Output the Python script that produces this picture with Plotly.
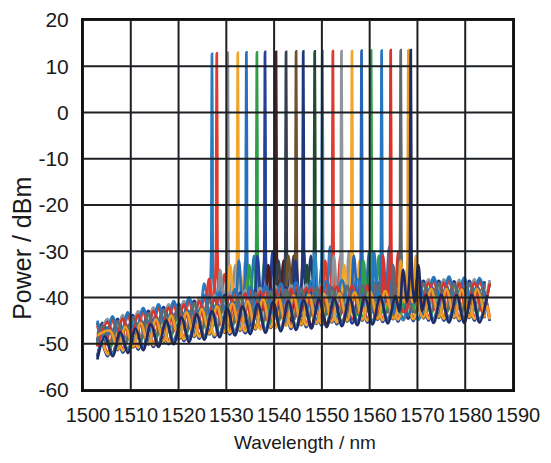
import numpy as np
import plotly.graph_objects as go

# ---------------- data ----------------
X_TICKS = [1500, 1510, 1520, 1530, 1540, 1550, 1560, 1570, 1580, 1590]
Y_TICKS = [-60, -50, -40, -30, -20, -10, 0, 10, 20]
Y_TICK_TEXT = ["-60", "-50", "-40", "-30", "-20", "-10", "0", "10", "20"]

# laser channels (peak wavelength nm, peak power dBm)
PEAK_WL = [1527.0, 1528.0, 1530.3, 1532.4, 1534.2, 1536.4, 1538.1, 1540.4, 1542.5, 1544.6,
           1546.1, 1548.5, 1550.1, 1552.3, 1554.1, 1556.3, 1558.3, 1560.3, 1562.5, 1564.4,
           1566.5, 1568.1, 1568.6]
PEAK_DBM = [12.7, 12.8, 12.9, 12.9, 13.0, 13.0, 13.1, 13.1, 13.1, 13.2, 13.2, 13.2, 13.3,
            13.3, 13.3, 13.3, 13.4, 13.4, 13.4, 13.5, 13.5, 13.5, 13.5]
SIDE_DBM = [-37, -36, -34, -33, -32, -33, -31, -33, -32, -31, -32, -33, -30, -32, -31,
            -33, -31, -32, -30, -31, -33, -32, -34]
FLOOR_SHIFT = [0.0, 0.4, -0.3, 0.2, -0.2, 0.5, -0.5, 0.3, -0.4, 0.0, 0.6, -0.2, 0.2, -0.6,
               0.4, -0.1, 0.3, -0.3, 0.5, -0.4, 0.1, -0.2, -0.4]
FLOOR_GROUP = [0, 1, 2, 3, 4, 5, 1, 3, 5, 0, 2, 4, 3, 0, 4, 1, 5, 2, 0, 4, 2, 5, 3]
COLORS = ['#2b7bc0', '#e23a2c', '#8b9097', '#f2a52b', '#2670bd', '#2e9e47', '#24419a',
          '#4b1f22', '#363f4e', '#6e5230', '#22367f', '#1f4c33', '#2b86c8', '#df3b2e',
          '#8f959c', '#f2a62c', '#2565b5', '#2fa048', '#2677c2', '#d9332b', '#5f6872',
          '#eb9c26', '#1f2b66']

# ripple floor of the spectra: alternating maxima / minima every 1.6 nm
FLOOR_STEP = 1.6
FLOOR_END = 1585.2
GROUP_START = [1503.0, 1503.53, 1504.07, 1504.6, 1505.13, 1505.67]
GROUP_FIRST = [None, -48.5, -50.0, -53.0, -50.2, -48.0]   # value at 1503.0
GROUP_DBM = [
    [-45.5, -49.7, -44.6, -49.2, -43.7, -48.3, -42.8, -47.7, -42.0, -47.1, -41.3, -46.4, -40.5,
     -46.1, -39.9, -45.5, -39.4, -45.0, -38.7, -44.8, -38.2, -44.3, -37.9, -44.0, -37.5, -43.6,
     -37.2, -43.4, -37.0, -43.0, -36.9, -42.9, -36.8, -42.6, -36.5, -42.4, -36.5, -42.2, -36.3,
     -42.1, -36.1, -42.0, -36.0, -42.1, -36.1, -41.9, -36.0, -42.1, -36.2, -42.0, -36.3, -42.2],
    [-47.9, -52.2, -47.0, -51.4, -46.1, -50.8, -45.4, -50.2, -44.5, -49.6, -43.7, -48.9, -43.0,
     -48.4, -42.3, -48.1, -41.7, -47.5, -41.1, -47.2, -40.6, -46.8, -40.2, -46.5, -39.9, -46.3,
     -39.7, -45.9, -39.5, -45.6, -39.3, -45.3, -39.2, -45.1, -39.1, -44.9, -38.9, -44.8, -38.8,
     -44.7, -38.6, -44.6, -38.5, -44.5, -38.4, -44.5, -38.6, -44.6, -38.5, -44.5, -38.6, -44.6],
    [-46.1, -50.4, -45.2, -49.7, -44.4, -49.1, -43.5, -48.4, -42.7, -47.8, -42.0, -47.3, -41.3,
     -46.8, -40.6, -46.4, -40.1, -45.9, -39.6, -45.6, -39.1, -45.2, -38.7, -44.9, -38.4, -44.6,
     -38.2, -44.3, -38.0, -44.0, -37.9, -43.8, -37.6, -43.6, -37.5, -43.4, -37.4, -43.2, -37.3,
     -43.1, -37.1, -43.0, -37.0, -43.1, -37.0, -43.0, -37.1, -43.0, -37.0, -43.1, -37.1],
    [-48.0, -52.3, -47.1, -51.6, -46.3, -51.0, -45.4, -50.3, -44.6, -49.7, -43.9, -49.2, -43.2,
     -48.7, -42.6, -48.2, -42.0, -47.8, -41.5, -47.5, -41.0, -47.2, -40.6, -46.9, -40.4, -46.6,
     -40.2, -46.3, -40.0, -46.0, -39.9, -45.8, -39.7, -45.6, -39.5, -45.4, -39.4, -45.2, -39.3,
     -45.1, -39.1, -45.0, -39.0, -45.1, -39.0, -45.0, -39.1, -45.1, -39.0, -45.0, -39.1],
    [-45.0, -49.5, -44.2, -48.8, -43.4, -48.2, -42.6, -47.6, -41.9, -47.0, -41.2, -46.5, -40.5,
     -46.0, -39.9, -45.6, -39.3, -45.2, -38.8, -44.9, -38.3, -44.6, -38.0, -44.3, -37.8, -44.0,
     -37.6, -43.7, -37.4, -43.4, -37.3, -43.2, -37.1, -43.0, -37.0, -42.8, -36.9, -42.7, -36.7,
     -42.6, -36.6, -42.5, -36.5, -42.5, -36.5, -42.4, -36.6, -42.5, -36.5, -42.6, -36.6],
    [-47.0, -51.0, -46.1, -50.4, -45.3, -49.8, -44.5, -49.2, -43.7, -48.6, -43.0, -48.1, -42.3,
     -47.6, -41.7, -47.2, -41.1, -46.8, -40.6, -46.5, -40.1, -46.2, -39.7, -45.9, -39.4, -45.6,
     -39.2, -45.3, -39.0, -45.0, -38.9, -44.8, -38.7, -44.6, -38.5, -44.4, -38.4, -44.3, -38.3,
     -44.2, -38.1, -44.1, -38.0, -44.0, -38.0, -44.0, -38.1, -44.0, -38.0, -44.1],
]

# shape of a laser line: offsets from the peak wavelength (nm)
PEAK_DL = [-2.4, -1.6, -0.8, -0.3, -0.1, 0.0, 0.1, 0.3, 0.8, 1.6, 2.4]
PEAK_LOW = -43.0
PEAK_VALLEY = -41.0
PEAK_SKIRT = -36.0
PEAK_SHOULDER = -8.0

# ---------------- figure ----------------
FONT = "Liberation Sans, Arial, sans-serif"
fig = go.Figure()

for i, wl in enumerate(PEAK_WL):
    g = FLOOR_GROUP[i]
    gx = list(np.arange(GROUP_START[g], FLOOR_END, FLOOR_STEP))
    gy = list(GROUP_DBM[g])
    n = min(len(gx), len(gy))
    gx, gy = gx[:n], gy[:n]
    if GROUP_FIRST[g] is not None:
        gx = [1503.0] + gx
        gy = [GROUP_FIRST[g]] + gy
    gx = np.array(gx)
    gy = np.array(gy) + FLOOR_SHIFT[i]
    keep = np.abs(gx - wl) > 2.6
    s = SIDE_DBM[i]
    prof_y = [PEAK_LOW, s, PEAK_VALLEY, PEAK_SKIRT, PEAK_SHOULDER, PEAK_DBM[i],
              PEAK_SHOULDER, PEAK_SKIRT, PEAK_VALLEY, s + 1, PEAK_LOW]
    prof_x = [wl + d for d in PEAK_DL]
    xs = np.concatenate([gx[keep], prof_x])
    ys = np.concatenate([gy[keep], prof_y])
    order = np.argsort(xs)
    fig.add_trace(go.Scatter(
        x=xs[order], y=ys[order], mode="lines",
        line=dict(color=COLORS[i], width=2.7, shape="spline", smoothing=1.0),
        showlegend=False, hoverinfo="skip"))

# grid drawn above the traces, as in the reference
for v in X_TICKS:
    fig.add_shape(type="line", xref="x", yref="paper", x0=v, x1=v, y0=0, y1=1,
                  line=dict(color="#1d2125", width=2), layer="above")
for v in Y_TICKS:
    fig.add_shape(type="line", xref="paper", yref="y", x0=0, x1=1, y0=v, y1=v,
                  line=dict(color="#1d2125", width=2), layer="above")

fig.update_xaxes(range=[1500, 1590], tickvals=X_TICKS, showgrid=False, zeroline=False,
                 showline=True, mirror=True, linecolor="#111", linewidth=2,
                 tickfont=dict(family=FONT, size=20, color="#1a1a1a"), automargin=False,
                 ticks="", ticklabelstandoff=6, ticklabelshift=5, layer="above traces")
fig.update_yaxes(range=[-60, 20], tickvals=Y_TICKS, ticktext=Y_TICK_TEXT, showgrid=False,
                 zeroline=False, showline=True, mirror=True, linecolor="#111", linewidth=2,
                 tickfont=dict(family=FONT, size=21, color="#1a1a1a"), automargin=False,
                 ticks="", ticklabelstandoff=8, layer="above traces")

fig.add_annotation(text="Wavelength / nm", xref="paper", yref="paper",
                   x=0.516, y=-0.143, xanchor="center", yanchor="middle", showarrow=False,
                   font=dict(family=FONT, size=19, color="#1a1a1a"))
fig.add_annotation(text="Power / dBm", xref="paper", yref="paper", textangle=-90,
                   x=-0.142, y=0.384, xanchor="center", yanchor="middle", showarrow=False,
                   font=dict(family=FONT, size=25, color="#1a1a1a"))

fig.update_layout(width=535, height=447, margin=dict(l=75, r=30, t=12, b=65),
                  paper_bgcolor="white", plot_bgcolor="white")

fig.write_html("out.html")
